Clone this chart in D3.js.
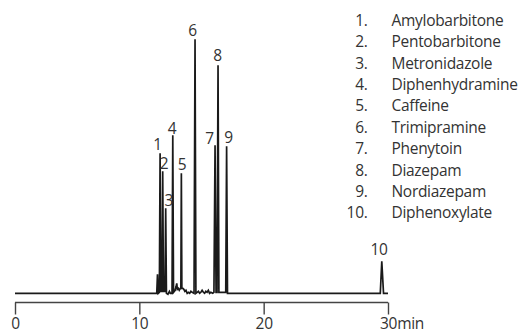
<!DOCTYPE html>
<html lang="en">
<head>
<meta charset="UTF-8">
<title>Chromatogram</title>
<script src="https://d3js.org/d3.v7.min.js"></script>
<style>
body { margin: 0; background: #fff; }
svg { display: block; }
text { font-family: "Open Sans", "Noto Sans", sans-serif; font-size: 15.5px; letter-spacing: -0.3px; fill: #333; }
</style>
</head>
<body>
<script>
// compound names, peak order 1..10
const compounds = ["Amylobarbitone", "Pentobarbitone", "Metronidazole", "Diphenhydramine", "Caffeine",
  "Trimipramine", "Phenytoin", "Diazepam", "Nordiazepam", "Diphenoxylate"];
// retention time (min) and height of each numbered peak
const peakTimes = [11.67, 11.88, 12.12, 12.69, 13.38, 14.48, 16.09, 16.33, 17.02, 29.50];
const peakHeights = [140, 122, 85, 158, 120, 254, 148, 228, 147, 32];
// label nudges (px) relative to the apex
const labelDx = [-2.5, 1.3, 3, -0.7, 0.7, -2.5, -5.5, -0.5, 2, -2.7];
const labelDy = [3, 2.7, 2, 1.7, 3, 3.3, 1.7, 4, 3, 6.7];
const xTicks = [0, 10, 20, 30];

// detector trace [time, signal]
const trace = [
  [0, 0], [11.40, 0], [11.46, 19], [11.52, 0], [11.61, 1],
  [11.67, 140], [11.73, 2], [11.82, 2], [11.88, 122], [11.94, 2],
  [12.06, 2], [12.12, 85], [12.18, 0], [12.30, -1], [12.42, 2], [12.50, 0], [12.63, 0],
  [12.69, 158], [12.75, 1], [12.88, 3], [12.96, 7], [13.01, 10], [13.06, 4], [13.13, 5],
  [13.21, 3], [13.30, 5], [13.34, 4], [13.38, 120], [13.42, 5], [13.50, 5], [13.58, 4],
  [13.66, 2], [13.75, 3], [13.85, 0], [13.95, 1], [14.05, 0], [14.15, 2], [14.25, 1], [14.40, 0],
  [14.48, 254], [14.55, 0], [14.65, 1], [14.75, 2], [14.85, 0], [14.95, 1], [15.05, 3],
  [15.15, 1], [15.25, 0], [15.35, 2], [15.45, 1], [15.55, 3], [15.65, 0], [15.75, 1],
  [15.90, 0], [16.00, 1], [16.09, 148], [16.17, 1], [16.25, 1], [16.33, 228], [16.40, 1],
  [16.60, 1], [16.95, 1], [17.02, 147], [17.09, 0], [29.38, 0], [29.50, 32], [29.64, 0], [30, 0]
];

const w = 524, h = 335;
const svg = d3.select("body").append("svg").attr("width", w).attr("height", h);

const x = d3.scaleLinear().domain([0, 30]).range([15, 388]);
const y = d3.scaleLinear().domain([0, 260]).range([293.3, 33.3]);

svg.append("path")
  .datum(trace)
  .attr("d", d3.line().x(d => x(d[0])).y(d => y(d[1])))
  .attr("fill", "none").attr("stroke", "#1a1a1a").attr("stroke-width", 1.7)
  .attr("stroke-linejoin", "miter");

// peak numbers
svg.selectAll("text.peak").data(peakTimes).enter().append("text")
  .attr("class", "peak")
  .attr("text-anchor", "middle")
  .attr("x", (d, i) => x(d) + labelDx[i])
  .attr("y", (d, i) => y(peakHeights[i]) - labelDy[i])
  .text((d, i) => i + 1);

// time axis
const axis = svg.append("g").attr("transform", "translate(0,302.5)")
  .call(d3.axisBottom(x).tickValues(xTicks).tickSize(12).tickPadding(3).tickFormat(d => d));
axis.select(".domain").attr("stroke", "#444").attr("stroke-width", 1.4).attr("d", "M15,0H388");
axis.selectAll(".tick line").attr("stroke", "#444").attr("stroke-width", 1.4);
axis.selectAll(".tick text").attr("font-family", null).attr("font-size", null).attr("fill", "#333");
axis.selectAll(".tick text").filter(d => d === 30).attr("text-anchor", "start").attr("dx", "-8.5").text("30min");

// legend list
const legend = svg.append("g");
legend.selectAll("text.num").data(compounds).enter().append("text")
  .attr("text-anchor", "end").attr("x", 367.5).attr("y", (d, i) => 25.7 + i * 21.4)
  .text((d, i) => (i + 1) + ".");
legend.selectAll("text.name").data(compounds).enter().append("text")
  .attr("x", 391.5).attr("y", (d, i) => 25.7 + i * 21.4)
  .text(d => d);
</script>
</body>
</html>
